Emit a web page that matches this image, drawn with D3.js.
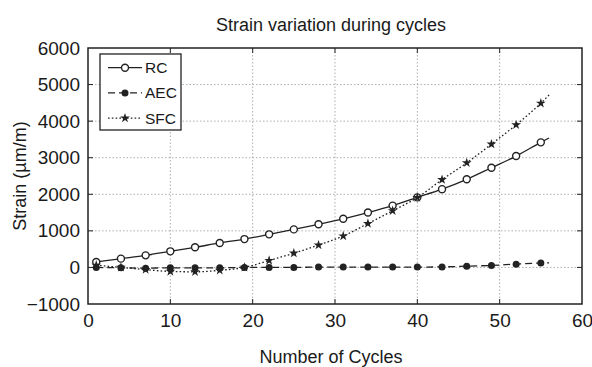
<!DOCTYPE html>
<html><head><meta charset="utf-8">
<script src="https://cdn.jsdelivr.net/npm/d3@7/dist/d3.min.js"></script>
<style>body{margin:0;background:#fff}svg{display:block}text{font-family:"Liberation Sans",Arial,sans-serif;fill:#1a1a1a}</style>
</head><body><svg id="c" width="592" height="367"></svg>
<script>
const cycles = [1,4,7,10,13,16,19,22,25,28,31,34,37,40,43,46,49,52,55];
const rcValues  = [150,240,330,440,550,670,775,905,1040,1180,1330,1500,1690,1915,2140,2410,2725,3045,3420];
const aecValues = [0,-10,-20,-10,-10,-10,0,0,0,10,10,10,10,10,15,35,55,90,120];
const sfcValues = [60,0,-60,-110,-120,-80,0,190,390,610,860,1200,1550,1910,2400,2860,3370,3900,4490];
const lineEndCycle = 56;
const rcEnd = 3540, aecEnd = 125, sfcEnd = 4715;
const xTicks = [0,10,20,30,40,50,60];
const yTicks = [-1000,0,1000,2000,3000,4000,5000,6000];
const seriesNames = ["RC","AEC","SFC"];

const svg = d3.select("#c");
const L=88, R=582, T=48, B=304;
const x = d3.scaleLinear().domain([0,60]).range([L,R]);
const y = d3.scaleLinear().domain([-1000,6000]).range([B,T]);
const ink = "#222";
const fmt = d3.format("d");

// grid
const g = svg.append("g");
g.selectAll(".gx").data(xTicks.slice(1,-1)).join("line")
  .attr("x1",d=>x(d)).attr("x2",d=>x(d)).attr("y1",T).attr("y2",B)
  .attr("stroke","#999").attr("stroke-width",0.8).attr("stroke-dasharray","1.5,2");
g.selectAll(".gy").data(yTicks.slice(1,-1)).join("line")
  .attr("y1",d=>y(d)).attr("y2",d=>y(d)).attr("x1",L).attr("x2",R)
  .attr("stroke","#999").attr("stroke-width",0.8).attr("stroke-dasharray","1.5,2");

// axes
const ax = d3.axisBottom(x).tickValues(xTicks).tickFormat(fmt).tickSize(0).tickPadding(10);
const axG = svg.append("g").attr("transform",`translate(0,${B})`).call(ax);
axG.attr("font-size",null).attr("font-family",null);
axG.select(".domain").remove();
axG.selectAll("text").attr("font-size",19).attr("fill","#1a1a1a");
const ay = d3.axisLeft(y).tickValues(yTicks).tickFormat(fmt).tickSize(0).tickPadding(8);
const ayG = svg.append("g").attr("transform",`translate(${L},0)`).call(ay);
ayG.attr("font-size",null).attr("font-family",null);
ayG.select(".domain").remove();
ayG.selectAll("text").attr("font-size",19).attr("fill","#1a1a1a");

// inner ticks on all sides
const tk = svg.append("g").attr("stroke",ink).attr("stroke-width",1);
xTicks.slice(1,-1).forEach(d=>{
  tk.append("line").attr("x1",x(d)).attr("x2",x(d)).attr("y1",B).attr("y2",B-5);
  tk.append("line").attr("x1",x(d)).attr("x2",x(d)).attr("y1",T).attr("y2",T+5);
});
yTicks.slice(1,-1).forEach(d=>{
  tk.append("line").attr("y1",y(d)).attr("y2",y(d)).attr("x1",L).attr("x2",L+5);
  tk.append("line").attr("y1",y(d)).attr("y2",y(d)).attr("x1",R).attr("x2",R-5);
});

// frame
svg.append("rect").attr("x",L).attr("y",T).attr("width",R-L).attr("height",B-T)
  .attr("fill","none").attr("stroke",ink).attr("stroke-width",1.5);

const series = [
  {name:"RC", vals:rcValues, end:rcEnd, dash:null, sym:"open"},
  {name:"AEC", vals:aecValues, end:aecEnd, dash:"7,4", sym:"filled"},
  {name:"SFC", vals:sfcValues, end:sfcEnd, dash:"1.6,2.2", sym:"star"}
];
const line = d3.line().x(d=>x(d[0])).y(d=>y(d[1])).curve(d3.curveMonotoneX);
function drawMarker(sel, s, cx, cy){
  if(s.sym==="open"){
    sel.append("circle").attr("cx",cx).attr("cy",cy).attr("r",3.5).attr("fill","#fff").attr("stroke",ink).attr("stroke-width",1.4);
  } else if(s.sym==="filled"){
    sel.append("circle").attr("cx",cx).attr("cy",cy).attr("r",3.5).attr("fill",ink);
  } else {
    sel.append("path").attr("d",d3.symbol().type(d3.symbolStar).size(30)()).attr("transform",`translate(${cx},${cy})`).attr("fill",ink);
  }
}
series.forEach(s=>{
  const pts = cycles.map((c,i)=>[c,s.vals[i]]).concat([[lineEndCycle,s.end]]);
  svg.append("path").attr("d",line(pts)).attr("fill","none").attr("stroke",ink)
    .attr("stroke-width",1.3).attr("stroke-dasharray",s.dash);
  const mg = svg.append("g");
  cycles.forEach((c,i)=>drawMarker(mg,s,x(c),y(s.vals[i])));
});

// legend
const lg = svg.append("g");
lg.append("rect").attr("x",100).attr("y",54).attr("width",81).attr("height",76).attr("fill","#fff").attr("stroke",ink).attr("stroke-width",1.3);
series.forEach((s,i)=>{
  const ly = 67.7 + i*25.2;
  lg.append("line").attr("x1",108).attr("x2",142).attr("y1",ly).attr("y2",ly).attr("stroke",ink).attr("stroke-width",1.3).attr("stroke-dasharray",s.dash);
  drawMarker(lg,s,125,ly);
  lg.append("text").attr("x",145).attr("y",ly+5.5).attr("font-size",15.5).text(s.name);
});

// titles
svg.append("text").attr("x",331).attr("y",31).attr("text-anchor","middle").attr("font-size",18).text("Strain variation during cycles");
svg.append("text").attr("x",331).attr("y",363).attr("text-anchor","middle").attr("font-size",18).text("Number of Cycles");
svg.append("text").attr("transform","translate(26,176) rotate(-90)").attr("text-anchor","middle").attr("font-size",18).text("Strain (µm/m)");
</script></body></html>
